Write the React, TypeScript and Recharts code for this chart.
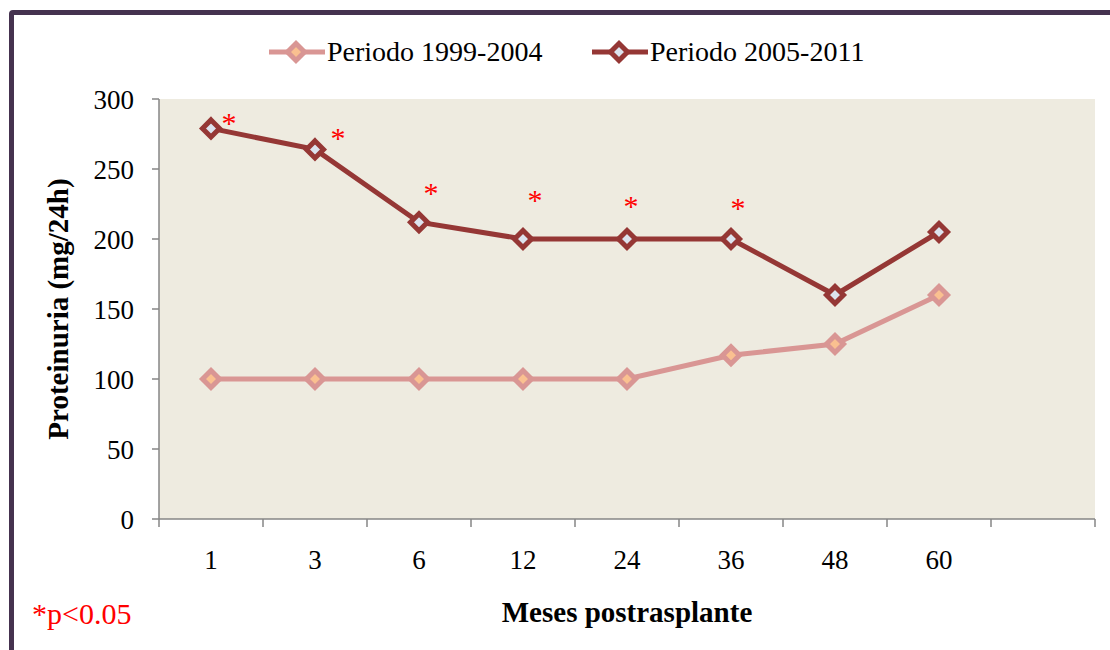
import React from "react";
import { LineChart, Line, XAxis, YAxis, CartesianGrid } from "recharts";

const MONTHS = ["1", "3", "6", "12", "24", "36", "48", "60"];
const SLOT_COUNT = 9; // the axis keeps one empty slot on the right
const PERIOD_1999 = [100, 100, 100, 100, 100, 117, 125, 160];
const PERIOD_2005 = [279, 264, 212, 200, 200, 200, 160, 205];
// height of the red "*" (significance) marks, in mg/24h
const STAR_LEVEL = [285, 274, 235, 230, 226, 224, null, null];
const Y_TICKS = [0, 50, 100, 150, 200, 250, 300];

// small horizontal nudges of the stars, like in the original figure
const STAR_DX = [18, 23, 12, 12, 4, 7, 0, 0];

const FONT = "'Liberation Serif', 'Times New Roman', serif";
const AXIS = "#868686";
const PLOT_BG = "#EEEBE0";
const DARK = "#953735";
const DARK_FILL = "#DCE3EE";
const LIGHT = "#D99694";
const LIGHT_FILL = "#FAC090";

const data = MONTHS.map((month, i) => ({
  x: i + 0.5,
  month,
  p1999: PERIOD_1999[i],
  p2005: PERIOD_2005[i],
  star: STAR_LEVEL[i],
}));

const X_TICKS: number[] = [];
for (let i = 0; i <= SLOT_COUNT; i++) {
  X_TICKS.push(i);
  if (i < MONTHS.length) X_TICKS.push(i + 0.5);
}

function diamond(cx: number, cy: number, r: number) {
  return `M${cx},${cy - r} L${cx + r},${cy} L${cx},${cy + r} L${cx - r},${cy} Z`;
}

function makeDot(stroke: string, fill: string) {
  // eslint-disable-next-line @typescript-eslint/no-explicit-any
  return (props: any) => {
    const { cx, cy, index, value } = props;
    if (cx == null || cy == null || value == null) return <g key={`d-${index}`} />;
    return (
      <path
        key={`d-${index}`}
        d={diamond(cx, cy, 8.5)}
        fill={fill}
        stroke={stroke}
        strokeWidth={5}
        strokeLinejoin="miter"
      />
    );
  };
}

// eslint-disable-next-line @typescript-eslint/no-explicit-any
function StarDot(props: any) {
  const { cx, cy, index, value } = props;
  if (cx == null || cy == null || value == null) return <g key={`s-${index}`} />;
  return (
    <text
      key={`s-${index}`}
      x={cx + STAR_DX[index]}
      y={cy + 13}
      textAnchor="middle"
      fontFamily={FONT}
      fontSize={30}
      fill="#FF0000"
    >
      *
    </text>
  );
}

// eslint-disable-next-line @typescript-eslint/no-explicit-any
function XTick({ x, y, payload }: any) {
  const v = payload.value as number;
  if (Number.isInteger(v)) {
    return <line x1={x} x2={x} y1={y} y2={y + 8} stroke={AXIS} strokeWidth={1.5} />;
  }
  return (
    <text x={x} y={y + 31} dy="0.71em" textAnchor="middle" fontFamily={FONT} fontSize={27} fill="#000">
      {MONTHS[Math.floor(v)]}
    </text>
  );
}

function LegendItem({ left, color, fill, label }: { left: number; color: string; fill: string; label: string }) {
  return (
    <div style={{ position: "absolute", left, top: 52, transform: "translateY(-50%)", display: "flex", alignItems: "center" }}>
      <svg width={59} height={26}>
        <line x1={1} x2={57} y1={13} y2={13} stroke={color} strokeWidth={5} />
        <path d={diamond(28, 13, 8.5)} fill={fill} stroke={color} strokeWidth={5} />
      </svg>
      <span style={{ fontFamily: FONT, fontSize: 28, color: "#000", whiteSpace: "nowrap", lineHeight: "30px" }}>
        {label}
      </span>
    </div>
  );
}

export default function App() {
  return (
    <div style={{ position: "absolute", left: 0, top: 0, width: 1110, height: 650, overflow: "hidden", background: "white" }}>
      {/* Frame */}
      <div
        style={{
          position: "absolute",
          left: 9,
          top: 10,
          width: 1200,
          height: 800,
          border: "5px solid #45324F",
          borderRadius: 4,
        }}
      />

      {/* Legend */}
      <LegendItem left={268} color={LIGHT} fill={LIGHT_FILL} label="Periodo 1999-2004" />
      <LegendItem left={591} color={DARK} fill={DARK_FILL} label="Periodo 2005-2011" />

      <div style={{ position: "absolute", left: 0, top: 0 }}>
        <LineChart width={1110} height={650} data={data} margin={{ top: 99, right: 15, bottom: 0, left: 0 }}>
          <CartesianGrid fill={PLOT_BG} stroke="none" horizontal={false} vertical={false} />
          <XAxis
            dataKey="x"
            type="number"
            domain={[0, SLOT_COUNT]}
            ticks={X_TICKS}
            interval={0}
            tick={<XTick />}
            tickLine={false}
            tickSize={0}
            tickMargin={0}
            axisLine={{ stroke: AXIS, strokeWidth: 1.5 }}
            height={131}
          />
          <YAxis
            domain={[0, 300]}
            ticks={Y_TICKS}
            interval={0}
            width={159}
            tick={{ fontFamily: FONT, fontSize: 27, fill: "#000" }}
            tickLine={{ stroke: AXIS, strokeWidth: 1.5 }}
            tickSize={7}
            tickMargin={18}
            axisLine={{ stroke: AXIS, strokeWidth: 1.5 }}
          />
          <Line
            type="linear"
            dataKey="p1999"
            stroke={LIGHT}
            strokeWidth={5}
            dot={makeDot(LIGHT, LIGHT_FILL)}
            activeDot={false}
            isAnimationActive={false}
          />
          <Line
            type="linear"
            dataKey="p2005"
            stroke={DARK}
            strokeWidth={5}
            dot={makeDot(DARK, DARK_FILL)}
            activeDot={false}
            isAnimationActive={false}
          />
          <Line
            type="linear"
            dataKey="star"
            stroke="none"
            dot={StarDot}
            activeDot={false}
            isAnimationActive={false}
          />
        </LineChart>
      </div>

      {/* Axis titles */}
      <div
        style={{
          position: "absolute",
          left: 58,
          top: 309,
          transform: "translate(-50%, -50%) rotate(-90deg)",
          fontFamily: FONT,
          fontWeight: "bold",
          fontSize: 29,
          whiteSpace: "nowrap",
          color: "#000",
        }}
      >
        Proteinuria (mg/24h)
      </div>
      <div
        style={{
          position: "absolute",
          left: 627,
          top: 612,
          transform: "translate(-50%, -50%)",
          fontFamily: FONT,
          fontWeight: "bold",
          fontSize: 29,
          whiteSpace: "nowrap",
          color: "#000",
        }}
      >
        Meses postrasplante
      </div>
      <div
        style={{
          position: "absolute",
          left: 32,
          top: 614,
          transform: "translateY(-50%)",
          fontFamily: FONT,
          fontSize: 30,
          whiteSpace: "nowrap",
          color: "#FF0000",
        }}
      >
        *p&lt;0.05
      </div>
    </div>
  );
}
